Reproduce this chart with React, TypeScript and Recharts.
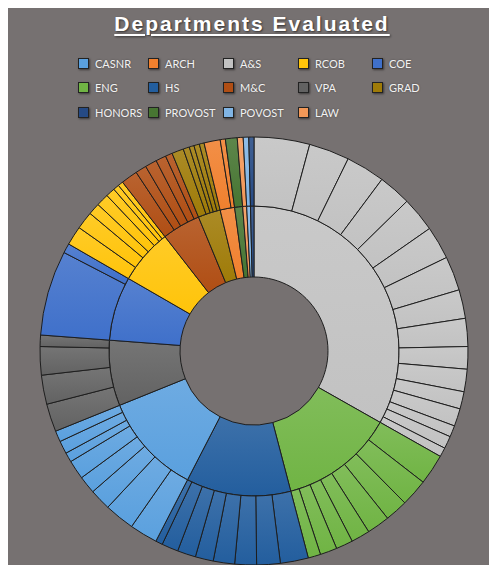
import { Cell, Pie, PieChart } from "recharts"

// departments in drawing order (largest first, clockwise from 12 o'clock)
const deptNames = ["A&S", "ENG", "HS", "CASNR", "VPA", "COE", "RCOB", "M&C", "GRAD", "ARCH", "PROVOST", "LAW", "POVOST", "HONORS"]

// sub-unit values per department (outer ring)
const asUnits = [15.1, 11, 10.6, 8.9, 9.5, 9, 9.3, 7.8, 7.6, 6.1, 6.1, 4.7, 4.8, 3.1, 3.4, 2.5]
const engUnits = [8.3, 7.4, 6.2, 6.2, 5.1, 4.6, 4.6, 3.4]
const hsUnits = [7.6, 6.4, 5.9, 5.8, 4.9, 5.0, 4.5, 1.9]
const casnrUnits = [7.6, 8.2, 5.8, 4.8, 5.2, 2.6, 3.5, 3.0]
const vpaUnits = [7.6, 7.9, 7.7, 3.1]
const coeUnits = [23.1, 2.6]
const rcobUnits = [5.2, 4.8, 3.2, 3.4, 2.5, 1.6, 1.4]
const mcUnits = [4.5, 3.0, 3.2, 2.8, 1.9]
const gradUnits = [3.2, 1.7, 1.3, 1.5, 1.3]
const archUnits = [4.4, 1.4]
const provostUnits = [3.2]
const lawUnits = [1.6]
const povostUnits = [1.5]
const honorsUnits = [1.4]

const units = [asUnits, engUnits, hsUnits, casnrUnits, vpaUnits, coeUnits, rcobUnits, mcUnits, gradUnits, archUnits, provostUnits, lawUnits, povostUnits, honorsUnits]

// legend order as in the source table
const legendNames = ["CASNR", "ARCH", "A&S", "RCOB", "COE", "ENG", "HS", "M&C", "VPA", "GRAD", "HONORS", "PROVOST", "POVOST", "LAW"]

const colors: Record<string, string> = {
  "CASNR": "#5aa0de",
  "ARCH": "#f0802e",
  "A&S": "#c2c2c2",
  "RCOB": "#ffc40a",
  "COE": "#3f70ca",
  "ENG": "#70b444",
  "HS": "#235e9e",
  "M&C": "#b04e14",
  "VPA": "#626262",
  "GRAD": "#9f7b08",
  "HONORS": "#264a84",
  "PROVOST": "#477532",
  "POVOST": "#80b4e4",
  "LAW": "#f29858",
}

const innerData = deptNames.map((name, i) => ({
  name,
  value: units[i].reduce((a, b) => a + b, 0),
}))

const outerData = deptNames.flatMap((name, i) =>
  units[i].map((v, j) => ({ name: name + " " + (j + 1), dept: name, value: v }))
)

function lighten(hex: string, amt: number) {
  const n = parseInt(hex.slice(1), 16)
  const r = (n >> 16) & 255
  const g = (n >> 8) & 255
  const b = n & 255
  const f = (c: number) => Math.round(c + (255 - c) * amt)
  return `rgb(${f(r)},${f(g)},${f(b)})`
}

function gid(name: string) {
  return "g" + name.replace(/[^A-Za-z]/g, "")
}

const W = 486
const H = 557
const CX = 246
const CY = 343

export default function App() {
  return (
    <div style={{ position: "relative", width: W, height: H, background: "#767171", overflow: "hidden" }}>
      <div
        style={{
          position: "absolute",
          top: 3,
          left: 0,
          width: W,
          textAlign: "center",
          fontFamily: "'Liberation Sans', Arial, sans-serif",
          fontWeight: 700,
          fontSize: 21,
          letterSpacing: 2,
          lineHeight: "26px",
          color: "#ffffff",
          textDecoration: "underline",
          textDecorationThickness: 2,
          textUnderlineOffset: 3,
          textShadow: "1px 1px 2px rgba(0,0,0,0.55)",
          paddingLeft: 2,
          boxSizing: "border-box",
        }}
      >
        Departments Evaluated
      </div>
      {legendNames.map((name, i) => {
        const col = i % 5
        const row = Math.floor(i / 5)
        const lefts = [70, 140, 215, 290, 364]
        return (
          <div
            key={name}
            style={{
              position: "absolute",
              left: lefts[col],
              top: 47 + row * 24.5,
              height: 16,
              display: "flex",
              alignItems: "center",
              fontFamily: "Lato, 'Open Sans', sans-serif",
              fontSize: 11,
              color: "#f2f2f2",
              textShadow: "0px 0px 2px rgba(0,0,0,0.4)",
              whiteSpace: "nowrap",
            }}
          >
            <span
              style={{
                display: "inline-block",
                width: 9,
                height: 9,
                background: colors[name],
                border: "1px solid #222",
                boxShadow: "1px 1px 2px rgba(0,0,0,0.5)",
                marginRight: 6,
              }}
            />
            {name}
          </div>
        )
      })}
      <div style={{ position: "absolute", left: 0, top: 0 }}>
        <PieChart width={W} height={H} margin={{ top: 0, right: 0, bottom: 0, left: 0 }}>
          <defs>
            {deptNames.map((name) => (
              <linearGradient key={name} id={gid(name)} x1="0" y1="0" x2="0" y2="1">
                <stop offset="0%" stopColor={lighten(colors[name], 0.12)} />
                <stop offset="100%" stopColor={colors[name]} />
              </linearGradient>
            ))}
          </defs>
          <Pie
            data={innerData}
            dataKey="value"
            cx={CX}
            cy={CY}
            innerRadius={74}
            outerRadius={145}
            startAngle={90}
            endAngle={-270}
            stroke="#1e1e1e"
            strokeWidth={1}
            isAnimationActive={false}
          >
            {innerData.map((d) => (
              <Cell key={d.name} fill={`url(#${gid(d.name)})`} />
            ))}
          </Pie>
          <Pie
            data={outerData}
            dataKey="value"
            cx={CX}
            cy={CY}
            innerRadius={145}
            outerRadius={214}
            startAngle={90}
            endAngle={-270}
            stroke="#1e1e1e"
            strokeWidth={1}
            isAnimationActive={false}
          >
            {outerData.map((d) => (
              <Cell key={d.name} fill={`url(#${gid(d.dept)})`} />
            ))}
          </Pie>
        </PieChart>
      </div>
    </div>
  )
}
